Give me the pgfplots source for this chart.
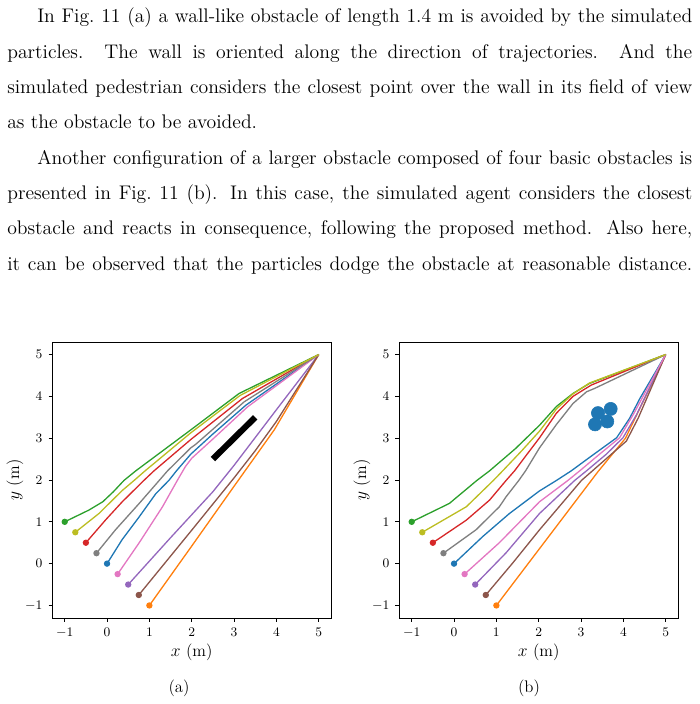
\documentclass[12pt,border=0pt]{standalone}
\usepackage{pgfplots}
\pgfplotsset{compat=1.18}
\definecolor{tabblue}{HTML}{1F77B4}
\definecolor{taborange}{HTML}{FF7F0E}
\definecolor{tabgreen}{HTML}{2CA02C}
\definecolor{tabred}{HTML}{D62728}
\definecolor{tabpurple}{HTML}{9467BD}
\definecolor{tabbrown}{HTML}{8C564B}
\definecolor{tabpink}{HTML}{E377C2}
\definecolor{tabgray}{HTML}{7F7F7F}
\definecolor{tabolive}{HTML}{BCBD22}
\pgfplotsset{
  traj/.style={
    scale only axis, width=191.6pt, height=189.25pt,
    xmin=-1.3, xmax=5.3, ymin=-1.3, ymax=5.3,
    xtick={-1,0,1,2,3,4,5}, ytick={-1,0,1,2,3,4,5},
    tick align=outside, xtick pos=bottom, ytick pos=left,
    major tick length=2.4pt,
    tick style={black, line width=0.5pt},
    axis line style={line width=0.6pt},
    tick label style={font=\fontsize{9.5}{11}\selectfont},
    label style={font=\fontsize{11.5}{13}\selectfont},
    xlabel={$x$ (m)}, ylabel={$y$ (m)},
    xlabel style={at={(axis description cs:0.5,-0.123)}, anchor=center},
    ylabel style={at={(axis description cs:-0.133,0.5)}, anchor=center},
    clip=false,
  },
  tr/.style={color=#1, line width=0.9pt, mark=*, mark size=1.7pt, mark indices={1}, mark options={solid}},
}
\begin{document}
\begin{tikzpicture}
\useasboundingbox (0,0) rectangle (479.33pt,482.73pt);
\begin{scope}[x=0.6857pt,y=0.6857pt, every node/.style={anchor=base west, inner sep=0, font=\fontsize{13.5}{16}\selectfont}]
\node at (37,681) {\makebox[449.1pt][s]{In Fig.\ 11 (a) a wall-like obstacle of length 1.4 m is avoided by the simulated}};
\node at (7,645.7) {\makebox[469.7pt][s]{particles.  The wall is oriented along the direction of trajectories.  And the}};
\node at (7,610.4) {\makebox[469.7pt][s]{simulated pedestrian considers the closest point over the wall in its field of view}};
\node at (7,575.1) {as the obstacle to be avoided.};
\node at (37,539.8) {\makebox[449.1pt][s]{Another configuration of a larger obstacle composed of four basic obstacles is}};
\node at (7,504.5) {\makebox[469.7pt][s]{presented in Fig.\ 11 (b). In this case, the simulated agent considers the closest}};
\node at (7,469.2) {\makebox[469.7pt][s]{obstacle and reacts in consequence, following the proposed method. Also here,}};
\node at (7,433.9) {\makebox[469.7pt][s]{it can be observed that the particles dodge the obstacle at reasonable distance.}};
\node[anchor=center, font=\fontsize{11.5}{13}\selectfont] at (179,16) {(a)};
\node[anchor=center, font=\fontsize{11.5}{13}\selectfont] at (529,16) {(b)};
\end{scope}

% (a)
\begin{axis}[traj, at={(35.66pt,58.97pt)}, anchor=south west]
\addplot[tr=tabblue] coordinates {(0,0) (0.36,0.58) (0.76,1.12) (1.15,1.67) (1.46,1.99) (1.64,2.22) (1.98,2.62) (2.5,3.1) (3.28,3.79) (5,5)};
\addplot[tr=taborange] coordinates {(1,-1) (2,0.42) (3,1.85) (3.95,3.2) (5,5)};
\addplot[tr=tabgreen] coordinates {(-1,1) (-0.43,1.28) (-0.1,1.48) (0.15,1.72) (0.4,1.99) (0.68,2.22) (1.98,3.2) (3.12,4.07) (5,5)};
\addplot[tr=tabred] coordinates {(-0.5,0.5) (-0.03,1.05) (0.36,1.48) (0.87,1.99) (1.11,2.22) (1.98,2.97) (3.2,3.95) (5,5)};
\addplot[tr=tabpurple] coordinates {(0.5,-0.5) (1.5,0.62) (2.5,1.72) (3.0,2.35) (4,3.68) (5,5)};
\addplot[tr=tabbrown] coordinates {(0.75,-0.75) (2,0.8) (3,2.05) (3.5,2.7) (4,3.4) (5,5)};
\addplot[tr=tabpink] coordinates {(0.25,-0.25) (0.76,0.5) (1.31,1.36) (1.66,1.99) (1.85,2.32) (2.0,2.52) (2.5,2.98) (3.32,3.75) (5,5)};
\addplot[tr=tabgray] coordinates {(-0.25,0.25) (0.2,0.81) (0.76,1.44) (1.19,1.94) (1.43,2.22) (1.98,2.77) (2.09,2.85) (3.24,3.87) (5,5)};
\addplot[tr=tabolive] coordinates {(-0.75,0.75) (-0.19,1.2) (0.36,1.75) (0.64,1.99) (0.9,2.22) (1.98,3.13) (3.14,4.02) (5,5)};
\addplot[black, line width=4.2pt, no marks] coordinates {(2.5,2.5) (3.5,3.5)};
\end{axis}

% (b)
\begin{axis}[traj, at={(273.59pt,58.97pt)}, anchor=south west]
\addplot[tr=tabblue] coordinates {(0,0) (0.68,0.65) (1.31,1.2) (2.02,1.74) (2.42,1.99) (2.77,2.22) (3.2,2.54) (3.84,3.01) (4.15,3.48) (4.39,3.95) (5,5)};
\addplot[tr=taborange] coordinates {(1,-1) (2.02,0.36) (3.4,2.2) (4.05,3.0) (5,5)};
\addplot[tr=tabgreen] coordinates {(-1,1) (-0.11,1.44) (0.54,1.99) (0.84,2.22) (1.45,2.75) (2.02,3.31) (2.42,3.76) (2.81,4.07) (3.2,4.31) (5,5)};
\addplot[tr=tabred] coordinates {(-0.5,0.5) (0.29,1.04) (0.84,1.52) (1.23,1.99) (1.43,2.22) (1.75,2.65) (2.02,3.01) (2.42,3.6) (2.81,4.0) (3.24,4.27) (5,5)};
\addplot[tr=tabpurple] coordinates {(0.5,-0.5) (1.23,0.26) (2.02,1.2) (2.85,1.99) (3.13,2.22) (3.6,2.62) (3.99,3.01) (4.31,3.56) (5,5)};
\addplot[tr=tabbrown] coordinates {(0.75,-0.75) (1.39,0.02) (2.02,0.81) (3.01,1.99) (3.27,2.22) (3.72,2.62) (4.07,2.93) (4.35,3.48) (5,5)};
\addplot[tr=tabpink] coordinates {(0.25,-0.25) (1.07,0.5) (2.02,1.48) (2.69,1.99) (2.97,2.22) (3.44,2.62) (3.91,3.01) (4.23,3.56) (5,5)};
\addplot[tr=tabgray] coordinates {(-0.25,0.25) (0.52,0.81) (1.07,1.36) (1.23,1.6) (1.53,1.99) (1.69,2.22) (2.02,2.77) (2.42,3.33) (2.81,3.83) (3.13,4.11) (3.32,4.19) (5,5)};
\addplot[tr=tabolive] coordinates {(-0.75,0.75) (0.29,1.36) (0.93,1.99) (1.15,2.22) (1.6,2.7) (2.02,3.17) (2.42,3.7) (2.81,4.06) (3.2,4.32) (5,5)};
\addplot[only marks, mark=*, mark size=4.5pt, color=tabblue] coordinates {(3.4,3.6) (3.7,3.7) (3.33,3.33) (3.62,3.4)};
\end{axis}
\end{tikzpicture}
\end{document}
